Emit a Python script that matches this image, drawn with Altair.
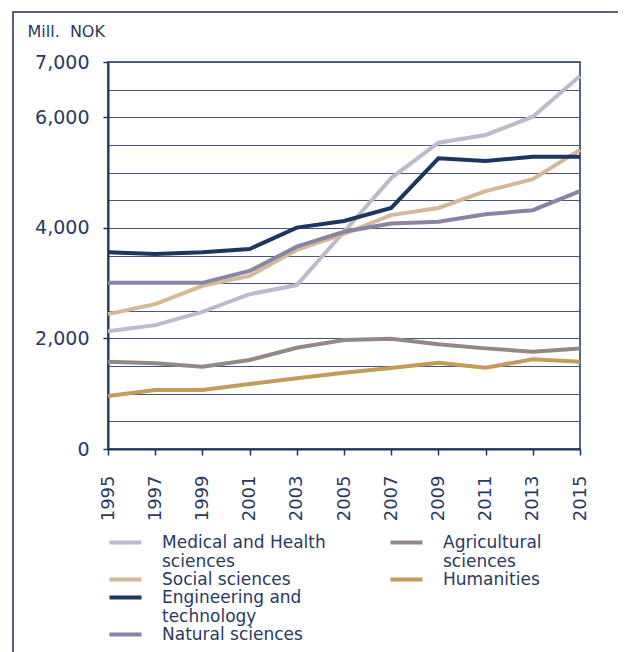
import altair as alt
import pandas as pd

years = [1995, 1997, 1999, 2001, 2003, 2005, 2007, 2009, 2011, 2013, 2015]

medical = [2130, 2240, 2480, 2800, 2965, 3930, 4900, 5540, 5680, 6010, 6745]
social = [2440, 2620, 2950, 3130, 3600, 3890, 4230, 4360, 4665, 4880, 5410]
engineering = [3557, 3526, 3560, 3617, 4005, 4125, 4360, 5257, 5208, 5286, 5286]
natural = [3005, 3005, 3005, 3220, 3660, 3930, 4080, 4110, 4245, 4320, 4665]
agricultural = [1580, 1550, 1490, 1610, 1830, 1970, 1995, 1893, 1820, 1760, 1820]
humanities = [958, 1067, 1067, 1175, 1278, 1380, 1465, 1560, 1470, 1622, 1580]

series_main = ["Medical and Health sciences", "Social sciences",
               "Engineering and technology", "Natural sciences"]
series_side = ["Agricultural sciences", "Humanities"]
colors_main = ["#bdbacb", "#d3b997", "#1e355e", "#8884a2"]
colors_side = ["#928888", "#c39b5b"]

values_by_series = {
    "Medical and Health sciences": medical,
    "Social sciences": social,
    "Engineering and technology": engineering,
    "Natural sciences": natural,
    "Agricultural sciences": agricultural,
    "Humanities": humanities,
}

rows = []
for name, vals in values_by_series.items():
    for yr, v in zip(years, vals):
        rows.append({"series": name, "year": yr, "value": v})
df = pd.DataFrame(rows)

grid_values = list(range(0, 7001, 500))
label_test = "datum.value % 2000 == 0 || datum.value == 7000"

NAVY = "#1e355e"
TEXT = "#2a3a5e"
FONT = "DejaVu Sans"

x_enc = alt.X("year:Q", scale=alt.Scale(domain=[1995, 2015], nice=False, zero=False),
              axis=alt.Axis(values=years, format="d", labelAngle=270, labelAlign="right",
                            labelBaseline="middle", labelPadding=20, tickSize=6,
                            grid=False, labelFontSize=18),
              title=None)
y_enc = alt.Y("value:Q", scale=alt.Scale(domain=[0, 7000], nice=False),
              axis=alt.Axis(values=grid_values, format=",d",
                            labelExpr=f"({label_test}) ? datum.label : ''",
                            tickOpacity={"condition": {"test": label_test, "value": 1}, "value": 0},
                            tickSize=5, labelPadding=14, labelFontSize=19,
                            grid=True, title="Mill.\u00a0 NOK", titleAngle=0,
                            titleX=-81, titleY=-26, titleAlign="left",
                            titleBaseline="alphabetic", titleFontSize=16,
                            titleFontWeight="normal", titleColor=TEXT, titleFont=FONT))

label_map = ("datum.label == 'Medical and Health sciences' ? ['Medical and Health', 'sciences'] : "
             "datum.label == 'Engineering and technology' ? ['Engineering and', 'technology'] : "
             "datum.label == 'Agricultural sciences' ? ['Agricultural', 'sciences'] : datum.label")

def legend(xpos, ypos):
    return alt.Legend(orient="none", legendX=xpos, legendY=ypos, title=None,
                      symbolType="M-3,0L3,0", symbolStrokeWidth=4, symbolSize=114,
                      labelFontSize=17, labelFont=FONT, labelColor=TEXT,
                      labelOffset=28, labelLimit=400, rowPadding=0, padding=0,
                      labelExpr=label_map)

main = alt.Chart(df).transform_filter(
    alt.FieldOneOfPredicate(field="series", oneOf=series_main)
).mark_line(strokeWidth=4).encode(
    x=x_enc, y=y_enc,
    color=alt.Color("series:N", scale=alt.Scale(domain=series_main, range=colors_main),
                    legend=legend(9, 472), sort=series_main),
)

side = alt.Chart(df).transform_filter(
    alt.FieldOneOfPredicate(field="series", oneOf=series_side)
).mark_line(strokeWidth=4).encode(
    x=x_enc, y=y_enc,
    color=alt.Color("series:N", scale=alt.Scale(domain=series_side, range=colors_side),
                    legend=legend(290, 472), sort=series_side),
)

frame = alt.Chart(pd.DataFrame({"f": [0]})).mark_rect(
    fillOpacity=0, stroke="#53617f", strokeWidth=2
).encode(x=alt.value(-95), y=alt.value(-50), x2=alt.value(800), y2=alt.value(900))

chart = alt.layer(frame, side, main).resolve_scale(color="independent").properties(
    width=472, height=387,
    autosize=alt.AutoSizeParams(type="none"),
    padding={"left": 100, "top": 54, "right": 38, "bottom": 210},
).configure_view(
    stroke=NAVY, strokeWidth=1.5
).configure_axis(
    domainColor=NAVY, domainWidth=2, tickColor=NAVY, tickWidth=1.5,
    gridColor="#46567a", gridWidth=1, labelColor=TEXT, labelFont=FONT,
)

chart.save("out.html", embed_options={"renderer": "svg", "actions": False})
